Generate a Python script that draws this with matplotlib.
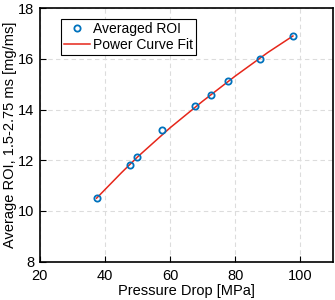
import matplotlib.pyplot as plt

# measured points
pressure = [37.4, 47.7, 49.9, 57.5, 67.7, 72.6, 77.7, 87.7, 97.7]
roi = [10.5, 11.8, 12.12, 13.18, 14.12, 14.58, 15.12, 16.0, 16.9]

# power curve fit
fit_x = [37.4, 45, 50, 60, 70, 80, 90, 97.7]
fit_y = [10.5, 11.5, 12.13, 13.28, 14.33, 15.32, 16.25, 16.9]

x_ticks = [20, 40, 60, 80, 100]
y_ticks = [8, 10, 12, 14, 16, 18]

plt.rcParams['font.family'] = ['Liberation Sans', 'DejaVu Sans']

fig = plt.figure(figsize=(3.35, 3.0), dpi=100)
ax = fig.add_axes([0.119, 0.128, 0.875, 0.845])

ax.plot(pressure, roi, 'o', mfc='none', mec=(0, 0.447, 0.741), mew=1.3,
        ms=4.5, label='Averaged ROI', zorder=3)
ax.plot(fit_x, fit_y, '-', color=(0.9, 0.15, 0.1), lw=1.1,
        label='Power Curve Fit', zorder=2)

ax.set_xlim(20, 110)
ax.set_ylim(8, 18)
ax.set_xticks(x_ticks)
ax.set_yticks(y_ticks)
ax.grid(True, ls=(0, (4, 3)), color='#dcdcdc', lw=0.8)
ax.tick_params(direction='in', labelsize=10.5, length=4, width=0.8)
ax.tick_params(axis='x', pad=5)
ax.tick_params(axis='y', pad=4)
for s in ax.spines.values():
    s.set_linewidth(1.2)

ax.set_xlabel('Pressure Drop [MPa]', fontsize=10.5, labelpad=1)
ax.set_ylabel('Average ROI, 1.5-2.75 ms [mg/ms]', fontsize=10.5, labelpad=1)

leg = ax.legend(loc='upper left', bbox_to_anchor=(0.072, 0.957), fontsize=10,
                fancybox=False, framealpha=1, edgecolor='black',
                borderpad=0.2, handlelength=1.9, handletextpad=0.2,
                labelspacing=0.15, borderaxespad=0)
leg.get_frame().set_linewidth(0.8)

fig.savefig('out.png', dpi=100)
